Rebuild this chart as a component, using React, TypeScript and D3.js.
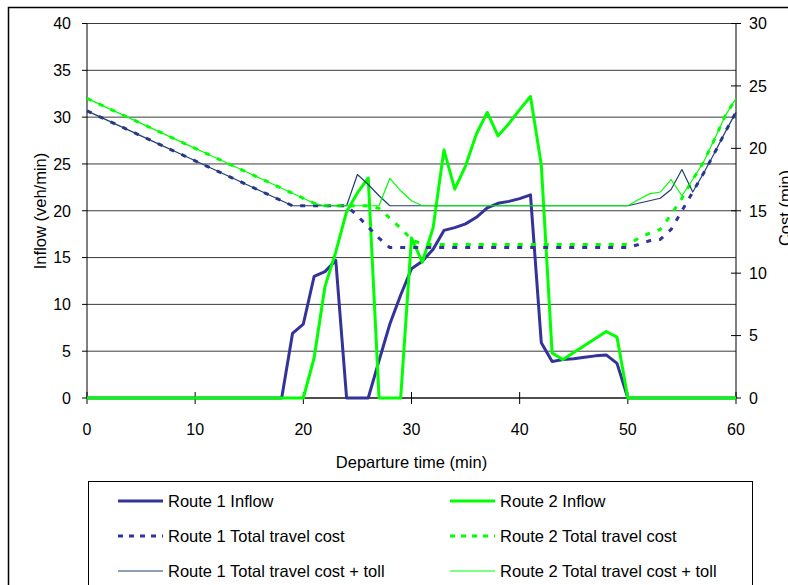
import React from 'react';
import * as d3 from 'd3';

const minutes = [0, 1, 2, 3, 4, 5, 6, 7, 8, 9, 10, 11, 12, 13, 14, 15, 16, 17, 18, 19, 20, 21, 22, 23, 24, 25, 26, 27, 28, 29, 30, 31, 32, 33, 34, 35, 36, 37, 38, 39, 40, 41, 42, 43, 44, 45, 46, 47, 48, 49, 50, 51, 52, 53, 54, 55, 56, 57, 58, 59, 60];

const route1Inflow = [0, 0, 0, 0, 0, 0, 0, 0, 0, 0, 0, 0, 0, 0, 0, 0, 0, 0, 0, 6.9, 7.9, 13.0, 13.5, 14.7, 0, 0, 0, 4.0, 7.9, 11.0, 13.8, 14.6, 15.9, 17.9, 18.2, 18.6, 19.3, 20.3, 20.8, 21.0, 21.3, 21.7, 5.9, 3.9, 4.1, 4.2, 4.35, 4.5, 4.6, 3.7, 0, 0, 0, 0, 0, 0, 0, 0, 0, 0, 0];

const route2Inflow = [0, 0, 0, 0, 0, 0, 0, 0, 0, 0, 0, 0, 0, 0, 0, 0, 0, 0, 0, 0, 0, 4.3, 11.9, 15.6, 19.9, 21.9, 23.5, 0, 0, 0, 17.1, 14.5, 18.2, 26.5, 22.3, 24.8, 28.2, 30.5, 28.0, 29.3, 30.8, 32.2, 24.9, 4.8, 4.1, 4.85, 5.6, 6.35, 7.1, 6.5, 0, 0, 0, 0, 0, 0, 0, 0, 0, 0, 0];

const route1Cost = [23.0, 22.6, 22.2, 21.8, 21.4, 21.0, 20.6, 20.2, 19.8, 19.4, 19.0, 18.6, 18.2, 17.8, 17.4, 17.0, 16.6, 16.2, 15.8, 15.4, 15.4, 15.4, 15.4, 15.4, 15.4, 14.6, 13.7, 12.8, 12.05, 12.05, 12.05, 12.05, 12.05, 12.05, 12.05, 12.05, 12.05, 12.05, 12.05, 12.05, 12.05, 12.05, 12.05, 12.05, 12.05, 12.05, 12.05, 12.05, 12.05, 12.05, 12.05, 12.3, 12.6, 12.7, 13.5, 15.0, 16.5, 18.0, 19.6, 21.3, 22.9];

const route2Cost = [24.0, 23.6, 23.2, 22.8, 22.4, 22.0, 21.6, 21.2, 20.8, 20.4, 20.0, 19.6, 19.2, 18.8, 18.4, 18.0, 17.6, 17.2, 16.8, 16.4, 16.0, 15.6, 15.4, 15.4, 15.4, 15.4, 15.4, 15.2, 14.4, 13.6, 12.7, 12.3, 12.3, 12.3, 12.3, 12.3, 12.3, 12.3, 12.3, 12.3, 12.3, 12.3, 12.3, 12.3, 12.3, 12.3, 12.3, 12.3, 12.3, 12.3, 12.3, 12.8, 13.2, 13.5, 14.7, 16.0, 17.5, 18.9, 20.7, 22.6, 24.0];

const route1Toll = [23.0, 22.6, 22.2, 21.8, 21.4, 21.0, 20.6, 20.2, 19.8, 19.4, 19.0, 18.6, 18.2, 17.8, 17.4, 17.0, 16.6, 16.2, 15.8, 15.4, 15.4, 15.4, 15.4, 15.4, 15.4, 17.9, 17.1, 16.2, 15.4, 15.4, 15.4, 15.4, 15.4, 15.4, 15.4, 15.4, 15.4, 15.4, 15.4, 15.4, 15.4, 15.4, 15.4, 15.4, 15.4, 15.4, 15.4, 15.4, 15.4, 15.4, 15.4, 15.6, 15.8, 16.0, 16.7, 18.3, 16.5, 18.0, 19.6, 21.3, 22.9];

const route2Toll = [24.0, 23.6, 23.2, 22.8, 22.4, 22.0, 21.6, 21.2, 20.8, 20.4, 20.0, 19.6, 19.2, 18.8, 18.4, 18.0, 17.6, 17.2, 16.8, 16.4, 16.0, 15.6, 15.4, 15.4, 15.4, 15.4, 15.4, 15.4, 17.6, 16.6, 15.8, 15.4, 15.4, 15.4, 15.4, 15.4, 15.4, 15.4, 15.4, 15.4, 15.4, 15.4, 15.4, 15.4, 15.4, 15.4, 15.4, 15.4, 15.4, 15.4, 15.4, 15.9, 16.35, 16.5, 17.5, 16.2, 17.5, 18.9, 20.7, 22.6, 24.0];

const xTicks = [0, 10, 20, 30, 40, 50, 60];
const leftTicks = [0, 5, 10, 15, 20, 25, 30, 35, 40];
const rightTicks = [0, 5, 10, 15, 20, 25, 30];

const legendLabels = [
  'Route 1 Inflow',
  'Route 2 Inflow',
  'Route 1 Total travel cost',
  'Route 2 Total travel cost',
  'Route 1 Total travel cost + toll',
  'Route 2 Total travel cost + toll',
];

const xTitle = 'Departure time (min)';
const yLeftTitle = 'Inflow (veh/min)';
const yRightTitle = 'Cost (min)';

const FONT = '"Liberation Sans", Arial, Helvetica, sans-serif';

export default function App() {
  const W = 788;
  const H = 585;
  const x = d3.scaleLinear().domain([0, 60]).range([87, 736]);
  const yL = d3.scaleLinear().domain([0, 40]).range([398, 23.5]);
  const yR = d3.scaleLinear().domain([0, 30]).range([398, 23.5]);

  const lineL = (vals: number[]) =>
    d3.line<number>().x((_, i) => x(minutes[i])).y((d) => yL(d))(vals) || '';
  const lineR = (vals: number[]) =>
    d3.line<number>().x((_, i) => x(minutes[i])).y((d) => yR(d))(vals) || '';

  const BLUE = '#333399';
  const GREEN = '#00FF00';
  const NAVY = '#1F3F70';

  const styles = [
    { color: BLUE, width: 3, dash: undefined as string | undefined },
    { color: GREEN, width: 3, dash: undefined as string | undefined },
    { color: BLUE, width: 3, dash: '5 8' },
    { color: GREEN, width: 3, dash: '5 8' },
    { color: NAVY, width: 1.2, dash: undefined as string | undefined },
    { color: GREEN, width: 1.2, dash: undefined as string | undefined },
  ];

  const paths = [
    { d: lineL(route1Inflow), s: styles[0] },
    { d: lineL(route2Inflow), s: styles[1] },
    { d: lineR(route1Cost), s: styles[2] },
    { d: lineR(route2Cost), s: styles[3] },
    { d: lineR(route1Toll), s: styles[4] },
    { d: lineR(route2Toll), s: styles[5] },
  ];

  const legendRows = [501, 536, 571];
  const legendCols = [
    { x1: 118, x2: 163, tx: 168 },
    { x1: 450, x2: 495, tx: 500 },
  ];

  return (
    <svg
      width={W}
      height={H}
      style={{ position: 'absolute', left: 0, top: 0, background: '#fff' }}
      fontFamily={FONT}
    >
      <rect x={8.5} y={7.5} width={800} height={600} fill="#fff" stroke="#000" strokeWidth={1.5} />

      {/* gridlines */}
      {leftTicks.map((t) => (
        <line key={'g' + t} x1={87} x2={736} y1={yL(t)} y2={yL(t)} stroke="#3c3c3c" strokeWidth={1} />
      ))}

      {/* axes */}
      <line x1={87} x2={87} y1={23.5} y2={398} stroke="#000" strokeWidth={1} />
      <line x1={736} x2={736} y1={23.5} y2={398} stroke="#000" strokeWidth={1} />
      <line x1={87} x2={736} y1={398} y2={398} stroke="#000" strokeWidth={1} />

      {leftTicks.map((t) => (
        <g key={'l' + t}>
          <line x1={82} x2={87} y1={yL(t)} y2={yL(t)} stroke="#000" />
          <text x={71} y={yL(t)} dy="0.36em" textAnchor="end" fontSize={16}>
            {t}
          </text>
        </g>
      ))}
      {rightTicks.map((t) => (
        <g key={'r' + t}>
          <line x1={731} x2={741} y1={yR(t)} y2={yR(t)} stroke="#000" />
          <text x={749} y={yR(t)} dy="0.36em" textAnchor="start" fontSize={16}>
            {t}
          </text>
        </g>
      ))}
      {xTicks.map((t) => (
        <g key={'x' + t}>
          <line x1={x(t)} x2={x(t)} y1={392} y2={404} stroke="#000" />
          <text x={x(t)} y={434.5} textAnchor="middle" fontSize={16}>
            {t}
          </text>
        </g>
      ))}

      <text x={411.5} y={468} textAnchor="middle" fontSize={16.5}>
        {xTitle}
      </text>
      <text transform="translate(46,211) rotate(-90)" textAnchor="middle" fontSize={16.5}>
        {yLeftTitle}
      </text>
      <text transform="translate(791,208) rotate(-90)" textAnchor="middle" fontSize={16.5}>
        {yRightTitle}
      </text>

      {/* series */}
      {paths.map((p, i) => (
        <path
          key={'p' + i}
          d={p.d}
          fill="none"
          stroke={p.s.color}
          strokeWidth={p.s.width}
          strokeDasharray={p.s.dash}
          strokeLinejoin="round"
        />
      ))}

      {/* legend */}
      <rect x={88.5} y={481.5} width={664} height={130} fill="#fff" stroke="#000" strokeWidth={1} />
      {legendLabels.map((lab, i) => {
        const row = Math.floor(i / 2);
        const col = legendCols[i % 2];
        const s = styles[i];
        const y = legendRows[row];
        return (
          <g key={'lg' + i}>
            <line
              x1={col.x1}
              x2={col.x2}
              y1={y}
              y2={y}
              stroke={s.color}
              strokeWidth={s.width}
              strokeDasharray={s.dash ? '5 6' : undefined}
            />
            <text x={col.tx} y={y} dy="0.36em" fontSize={16.5}>
              {lab}
            </text>
          </g>
        );
      })}
    </svg>
  );
}
